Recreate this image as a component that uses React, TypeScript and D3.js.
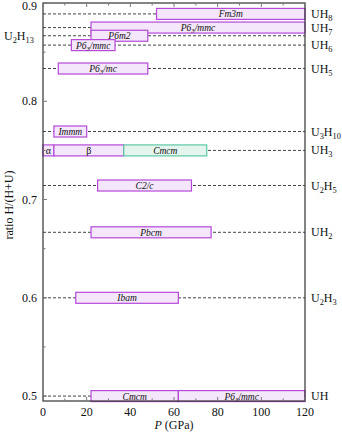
import React from 'react';
import * as d3 from 'd3';

// compositions (label, ratio H/(H+U), side of label)
const compNames = ['UH_8', 'UH_7', 'U_2H_13', 'UH_6', 'UH_5', 'U_3H_10', 'UH_3', 'U_2H_5', 'UH_2', 'U_2H_3', 'UH'];
const compRatios = [8 / 9, 7 / 8, 13 / 15, 6 / 7, 5 / 6, 10 / 13, 3 / 4, 5 / 7, 2 / 3, 3 / 5, 1 / 2];
const compSide = ['right', 'right', 'left', 'right', 'right', 'right', 'right', 'right', 'right', 'right', 'right'];

// phases: name, ratio, pressure range (GPa), colour kind
const phaseNames = ['Fm3m', 'P6_3/mmc', 'P6m2', 'P6_3/mmc', 'P6_3/mc', 'Immm', 'α', 'β', 'Cmcm', 'C2/c', 'Pbcm', 'Ibam', 'Cmcm', 'P6_3/mmc'];
const phaseRatios = [8 / 9, 7 / 8, 13 / 15, 6 / 7, 5 / 6, 10 / 13, 3 / 4, 3 / 4, 3 / 4, 5 / 7, 2 / 3, 3 / 5, 1 / 2, 1 / 2];
const phaseFrom = [52, 22, 22, 13, 7, 5, 0, 5, 37, 25, 22, 15, 22, 62];
const phaseTo = [120, 120, 48, 33, 48, 20, 5, 37, 75, 68, 77, 62, 62, 120];
const phaseKind = ['p', 'p', 'p', 'p', 'p', 'p', 'p', 'p', 'g', 'p', 'p', 'p', 'p', 'p'];

const xTicks = [0, 20, 40, 60, 80, 100, 120];
const yTicks = [0.5, 0.6, 0.7, 0.8, 0.9];

const W = 342;
const H = 432;
const left = 43;
const right = 305;
const top = 3;
const bottom = 401;

const serif = '"Liberation Serif", "DejaVu Serif", serif';

// digits after "_" become subscripts
function Formula({ s, fs }: { s: string; fs: number }) {
  const parts = s.split(/_(\d+)/);
  return (
    <>
      {parts.map((p, i) =>
        i % 2 === 1 ? (
          <tspan key={i} fontSize={fs * 0.7} dy={fs * 0.25}>{p}</tspan>
        ) : (
          <tspan key={i} dy={i === 0 ? 0 : -fs * 0.25}>{p}</tspan>
        )
      )}
    </>
  );
}

export default function App() {
  const x = d3.scaleLinear().domain([0, 120]).range([left, right]);
  const y = d3.scaleLinear().domain([0.495, 0.9]).range([bottom, top]);
  const barH = 11;

  const colors: Record<string, { fill: string; stroke: string }> = {
    p: { fill: '#f4e6fb', stroke: '#b54ad8' },
    g: { fill: '#e4f5ee', stroke: '#5cc8a4' },
  };

  const xMinor = d3.range(0, 121, 10);
  const yMinor = d3.range(0.5, 0.9001, 0.05);

  return (
    <svg width={W} height={H} style={{ position: 'absolute', left: 0, top: 0 }} fontFamily={serif}>
      <rect width={W} height={H} fill="#fff" />
      {/* dashed composition lines */}
      {compRatios.map((r, i) => (
        <line key={'d' + i} x1={left} x2={right} y1={y(r)} y2={y(r)} stroke="#444" strokeWidth={1} strokeDasharray="3,2" />
      ))}
      {/* phase bars */}
      {phaseNames.map((n, i) => {
        const c = colors[phaseKind[i]];
        const x0 = x(phaseFrom[i]);
        const x1 = x(phaseTo[i]);
        const cy = y(phaseRatios[i]);
        const italic = !(n === 'α' || n === 'β');
        return (
          <g key={'b' + i}>
            <rect x={x0} y={cy - barH / 2} width={x1 - x0} height={barH} fill={c.fill} stroke={c.stroke} strokeWidth={1.2} />
            <text x={(x0 + x1) / 2} y={cy + 3.5} fontSize={italic ? 9.5 : 10} textAnchor="middle" fontStyle={italic ? 'italic' : 'normal'} fill="#111">
              <Formula s={n} fs={9.5} />
            </text>
          </g>
        );
      })}
      {/* frame */}
      <rect x={left} y={top} width={right - left} height={bottom - top} fill="none" stroke="#333" strokeWidth={1.2} />
      {/* ticks */}
      {xMinor.map((t) => {
        const len = t % 20 === 0 ? 4 : 2.5;
        return (
          <g key={'xt' + t} stroke="#777" strokeWidth={1}>
            <line x1={x(t)} x2={x(t)} y1={bottom} y2={bottom - len} />
            <line x1={x(t)} x2={x(t)} y1={top} y2={top + len} />
          </g>
        );
      })}
      {yMinor.map((t, i) => (
        <line key={'yt' + i} x1={left} x2={left + (i % 2 === 0 ? 4 : 2.5)} y1={y(t)} y2={y(t)} stroke="#777" strokeWidth={1} />
      ))}
      {xTicks.map((t) => (
        <text key={'xl' + t} x={x(t)} y={bottom + 15} fontSize={12} textAnchor="middle" fill="#111">{t}</text>
      ))}
      {yTicks.map((t) => (
        <text key={'yl' + t} x={left - 6} y={Math.max(y(t) + 4, 10)} fontSize={12} textAnchor="end" fill="#111">{d3.format('.1f')(t)}</text>
      ))}
      {/* composition labels */}
      {compNames.map((n, i) =>
        compSide[i] === 'right' ? (
          <text key={'c' + i} x={right + 6} y={y(compRatios[i]) + 4} fontSize={12} fill="#111">
            <Formula s={n} fs={12} />
          </text>
        ) : (
          <text key={'c' + i} x={4} y={y(compRatios[i]) + 4} fontSize={12} fill="#111">
            <Formula s={n} fs={12} />
          </text>
        )
      )}
      {/* axis titles */}
      <text x={(left + right) / 2} y={429} fontSize={12} textAnchor="middle" fill="#111">
        <tspan fontStyle="italic">P</tspan> (GPa)
      </text>
      <text transform="translate(13,205) rotate(-90)" fontSize={12} textAnchor="middle" fill="#111">
        ratio H/(H+U)
      </text>
    </svg>
  );
}
